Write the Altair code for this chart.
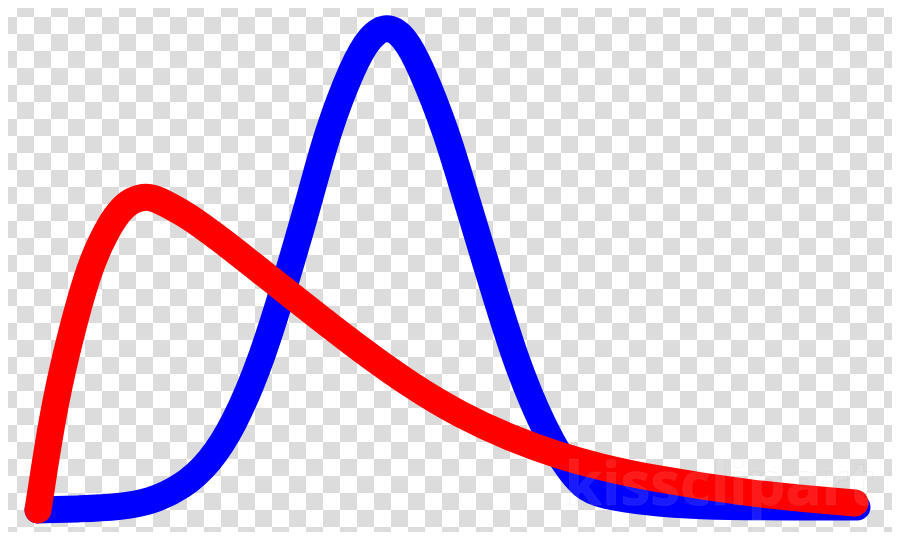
import itertools
import pandas as pd
import altair as alt

# curve readings: x position and height above the baseline
blue_x = [38, 80, 120, 150, 183, 210, 233, 262, 290, 310, 327, 353, 370, 387,
          404, 420, 447, 465, 487, 515, 543, 565, 583, 600, 650, 700, 760, 857]
blue_y = [2, 3, 5, 10, 25, 50, 85, 152, 245, 314, 379, 447, 476, 487,
          476, 447, 379, 317, 245, 152, 85, 47, 25, 17, 9, 6, 5, 5]

red_x = [38, 45, 55, 70, 88, 100, 112, 125, 140, 153, 170, 187, 220, 253,
         287, 320, 360, 410, 460, 510, 560, 600, 650, 750, 855]
red_y = [2, 48, 109, 175, 240, 268, 291, 308, 315, 315, 306, 297, 273, 247,
         220, 194, 163, 127, 97, 74, 56, 45, 34, 18, 9]

# transparency checkerboard behind the clipart
grid_cols = list(range(53))
grid_rows = list(range(32))
cell = 17

width = 884
height = 524

x_scale = alt.Scale(domain=[8, 892], nice=False, zero=False)
y_scale = alt.Scale(domain=[-20, 504], nice=False, zero=False)

cells = pd.DataFrame(
    [(c, r) for c, r in itertools.product(grid_cols, grid_rows) if (c + r) % 2 == 1],
    columns=['col', 'row']
)

checker = alt.Chart(cells).transform_calculate(
    x0=f'datum.col * {cell}',
    x1=f'datum.col * {cell} + {cell}',
    y0=f'512 - datum.row * {cell}',
    y1=f'512 - datum.row * {cell} - {cell}'
).mark_rect(clip=True, color='#dcdcdc').encode(
    alt.X('x0:Q', scale=x_scale, axis=None),
    alt.X2('x1:Q'),
    alt.Y('y0:Q', scale=y_scale, axis=None),
    alt.Y2('y1:Q')
)

curves = pd.concat([
    pd.DataFrame({'x': blue_x, 'y': blue_y, 'series': 'blue'}),
    pd.DataFrame({'x': red_x, 'y': red_y, 'series': 'red'}),
])

lines = alt.Chart(curves).mark_line(
    strokeWidth=27, strokeCap='round', strokeJoin='round', interpolate='basis'
).encode(
    alt.X('x:Q', scale=x_scale, axis=None),
    alt.Y('y:Q', scale=y_scale, axis=None),
    alt.Color('series:N',
              scale=alt.Scale(domain=['blue', 'red'], range=['#0000ff', '#ff0000']),
              legend=None),
    alt.Order('series:N'),
    alt.Detail('series:N')
)

# faint stock-site watermark
watermark = alt.Chart(pd.DataFrame({'label': ['kissclipart']})).mark_text(
    font='Open Sans', fontWeight='bold', fontSize=60,
    align='right', baseline='alphabetic',
    fill='white', fillOpacity=0.1,
    stroke='#999999', strokeWidth=1, strokeOpacity=0.1
).encode(
    x=alt.value(867),
    y=alt.value(497),
    text='label:N'
)

chart = (checker + lines + watermark).properties(
    width=width,
    height=height,
    padding=0,
    background='white'
).configure_view(stroke=None)

chart.save("out.html", embed_options={"renderer": "svg", "actions": False})
